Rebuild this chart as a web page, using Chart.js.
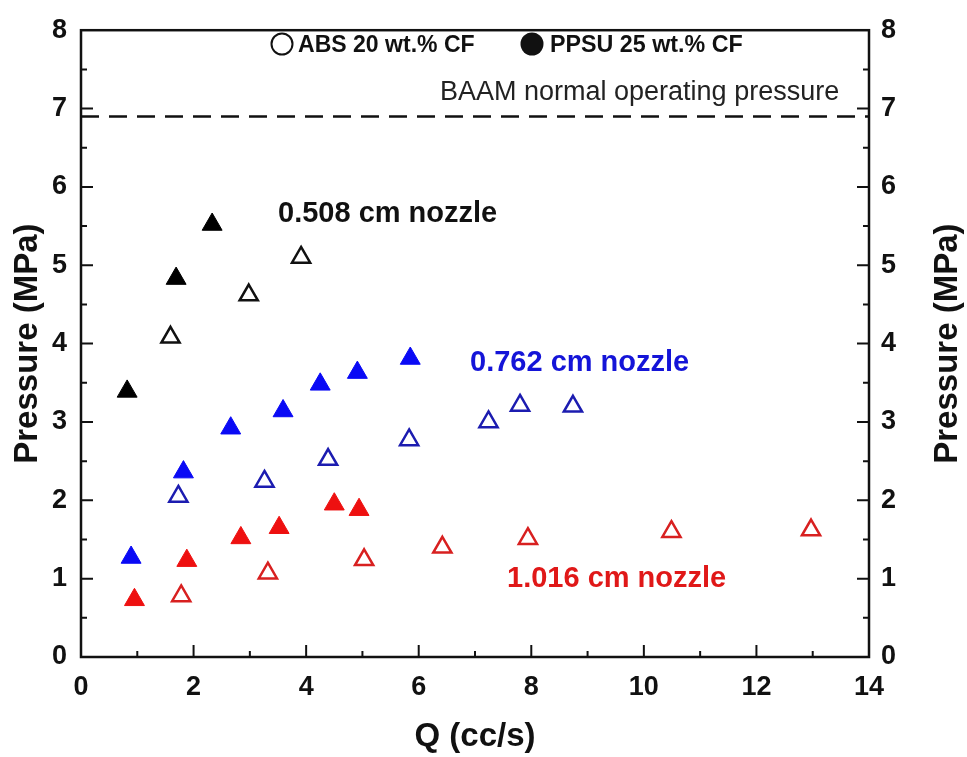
<!DOCTYPE html>
<html>
<head>
<meta charset="utf-8">
<script src="https://cdn.jsdelivr.net/npm/chart.js@4.4.1/dist/chart.umd.min.js"></script>
<style>
  html, body { margin: 0; padding: 0; background: #fff; }
  #wrap { width: 967px; height: 757px; }
</style>
</head>
<body>
<div id="wrap"><canvas id="pressureChart" width="967" height="757"></canvas></div>
<script>
// values (Q in cc/s, pressure in MPa)
const absSmallQ = [1.59, 2.98, 3.91];
const absSmallP = [4.08, 4.62, 5.10];
const ppsuSmallQ = [0.82, 1.69, 2.33];
const ppsuSmallP = [3.39, 4.83, 5.52];

const absMidQ = [1.73, 3.26, 4.39, 5.83, 7.24, 7.80, 8.74];
const absMidP = [2.05, 2.24, 2.52, 2.77, 3.00, 3.21, 3.20];
const ppsuMidQ = [0.89, 1.82, 2.66, 3.59, 4.25, 4.91, 5.85];
const ppsuMidP = [1.27, 2.36, 2.92, 3.14, 3.48, 3.63, 3.81];

const absLargeQ = [1.78, 3.32, 5.03, 6.42, 7.94, 10.49, 12.97];
const absLargeP = [0.78, 1.07, 1.24, 1.40, 1.51, 1.60, 1.62];
const ppsuLargeQ = [0.95, 1.88, 2.84, 3.52, 4.50, 4.94];
const ppsuLargeP = [0.73, 1.23, 1.52, 1.65, 1.95, 1.88];

const baamPressure = 6.9;
const xTicks = [0, 2, 4, 6, 8, 10, 12, 14];
const yTicks = [0, 1, 2, 3, 4, 5, 6, 7, 8];

const sans = '"Liberation Sans", Arial, sans-serif';

function pts(xs, ys) {
    return xs.map((x, i) => ({ x: x, y: ys[i] }));
}

function openSet(xs, ys, color) {
    return {
        data: pts(xs, ys),
        pointStyle: 'triangle',
        pointRadius: 10.5,
        borderWidth: 2.5,
        borderColor: color,
        backgroundColor: 'rgba(0,0,0,0)'
    };
}

function filledSet(xs, ys, color) {
    return {
        data: pts(xs, ys),
        pointStyle: 'triangle',
        pointRadius: 11.5,
        borderWidth: 1,
        borderColor: color,
        backgroundColor: color
    };
}

// slightly condensed text: squeeze horizontally
function squeezed(ctx, text, x, y, sx) {
    ctx.save();
    ctx.translate(x, y);
    ctx.scale(sx, 1);
    ctx.fillText(text, 0, 0);
    ctx.restore();
}

// frame, inward ticks, dashed reference line, labels and the little legend
const decor = {
    id: 'decor',
    afterDatasetsDraw(chart) {
        const ctx = chart.ctx;
        const a = chart.chartArea;
        const xs = chart.scales.x, ys = chart.scales.y;
        ctx.save();
        ctx.strokeStyle = '#111';
        ctx.lineWidth = 2.5;
        ctx.strokeRect(a.left, a.top, a.right - a.left, a.bottom - a.top);

        ctx.lineWidth = 2;
        for (let v = 1; v < 14; v++) {
            const px = xs.getPixelForValue(v);
            const len = v % 2 === 0 ? 12 : 6;
            ctx.beginPath();
            ctx.moveTo(px, a.bottom);
            ctx.lineTo(px, a.bottom - len);
            ctx.stroke();
        }
        for (let v = 0.5; v < 8; v += 0.5) {
            const py = ys.getPixelForValue(v);
            const len = Number.isInteger(v) ? 12 : 6;
            ctx.beginPath();
            ctx.moveTo(a.left, py);
            ctx.lineTo(a.left + len, py);
            ctx.moveTo(a.right, py);
            ctx.lineTo(a.right - len, py);
            ctx.stroke();
        }

        // BAAM line
        const by = ys.getPixelForValue(baamPressure);
        ctx.setLineDash([18, 10]);
        ctx.lineWidth = 2.5;
        ctx.beginPath();
        ctx.moveTo(a.left, by);
        ctx.lineTo(a.right, by);
        ctx.stroke();
        ctx.setLineDash([]);

        ctx.textBaseline = 'middle';
        ctx.textAlign = 'left';
        ctx.fillStyle = '#222';
        ctx.font = '27px ' + sans;
        ctx.fillText('BAAM normal operating pressure', 440, 93);

        ctx.font = 'bold 29px ' + sans;
        ctx.fillStyle = '#111';
        ctx.fillText('0.508 cm nozzle', 278, 214);
        ctx.fillStyle = '#1414d8';
        ctx.fillText('0.762 cm nozzle', 470, 363);
        ctx.fillStyle = '#e01818';
        ctx.fillText('1.016 cm nozzle', 507, 579);

        // legend
        ctx.fillStyle = '#111';
        ctx.lineWidth = 2;
        ctx.beginPath();
        ctx.arc(282, 44, 10.5, 0, Math.PI * 2);
        ctx.stroke();
        ctx.beginPath();
        ctx.arc(532, 44, 11.5, 0, Math.PI * 2);
        ctx.fill();
        ctx.font = 'bold 24px ' + sans;
        squeezed(ctx, 'ABS 20 wt.% CF', 298, 45, 0.96);
        squeezed(ctx, 'PPSU 25 wt.% CF', 550, 45, 0.97);

        // right axis title reads bottom to top like the left one
        ctx.font = 'bold 33px ' + sans;
        ctx.textAlign = 'center';
        ctx.translate(948, (a.top + a.bottom) / 2);
        ctx.rotate(-Math.PI / 2);
        ctx.fillText('Pressure (MPa)', 0, 0);
        ctx.restore();
    }
};

const tickFont = { family: sans, size: 27, weight: 'bold' };
const titleFont = { family: sans, size: 33, weight: 'bold' };

new Chart(document.getElementById('pressureChart'), {
    type: 'scatter',
    data: {
        datasets: [
            openSet(absSmallQ, absSmallP, '#111'),
            filledSet(ppsuSmallQ, ppsuSmallP, '#000'),
            openSet(absMidQ, absMidP, '#1c1cb0'),
            filledSet(ppsuMidQ, ppsuMidP, '#0a0af5'),
            openSet(absLargeQ, absLargeP, '#d82020'),
            filledSet(ppsuLargeQ, ppsuLargeP, '#ee1010')
        ]
    },
    options: {
        responsive: false,
        animation: false,
        layout: { padding: { top: 21, left: 0, right: 0, bottom: 0 } },
        plugins: {
            legend: { display: false },
            tooltip: { enabled: false }
        },
        scales: {
            x: {
                type: 'linear', min: 0, max: 14,
                afterBuildTicks: s => { s.ticks = xTicks.map(v => ({ value: v })); },
                afterFit: s => { s.height = 100; },
                grid: { display: false, drawTicks: false },
                border: { display: false },
                ticks: { font: tickFont, color: '#111', padding: 14 },
                title: { display: true, text: 'Q (cc/s)', font: titleFont, color: '#111', padding: { top: 0, bottom: 0 } }
            },
            y: {
                type: 'linear', min: 0, max: 8, position: 'left',
                afterBuildTicks: s => { s.ticks = yTicks.map(v => ({ value: v })); },
                afterFit: s => { s.width = 81; },
                grid: { display: false, drawTicks: false },
                border: { display: false },
                ticks: { font: tickFont, color: '#111', padding: 14 },
                title: { display: true, text: 'Pressure (MPa)', font: titleFont, color: '#111', padding: { top: 8, bottom: 0 } }
            },
            y2: {
                type: 'linear', min: 0, max: 8, position: 'right',
                afterBuildTicks: s => { s.ticks = yTicks.map(v => ({ value: v })); },
                afterFit: s => { s.width = 98; },
                grid: { display: false, drawTicks: false },
                border: { display: false },
                ticks: { font: tickFont, color: '#111', padding: 12 },
                title: { display: false }
            }
        }
    },
    plugins: [decor]
});
</script>
</body>
</html>
